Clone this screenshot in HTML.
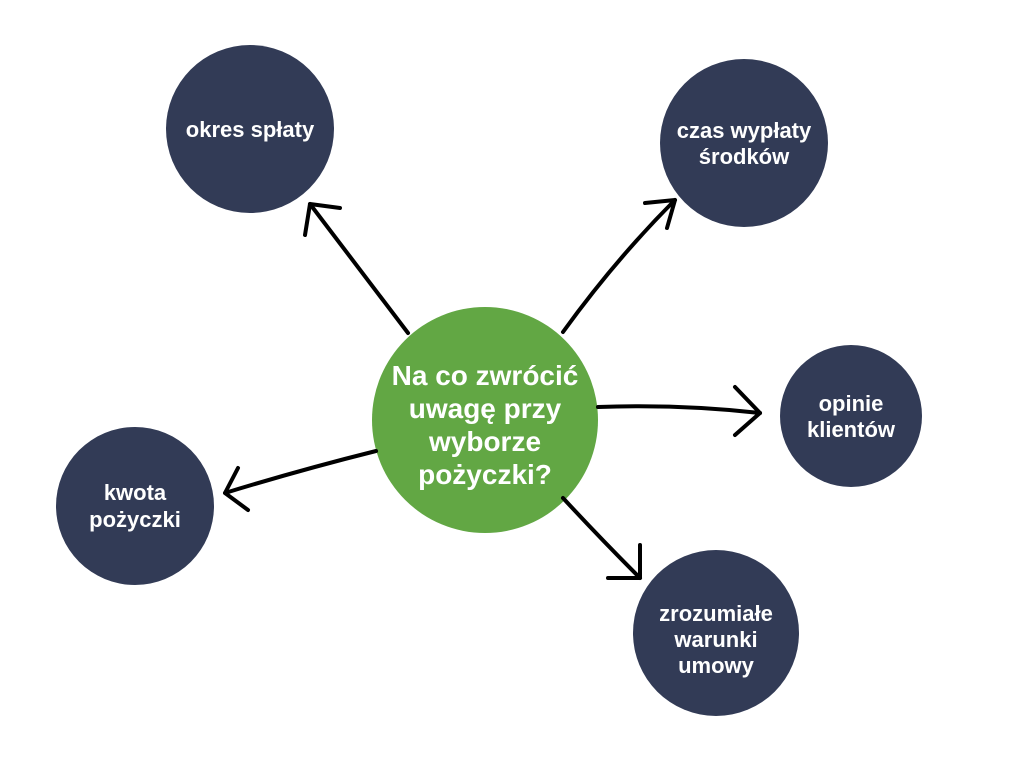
<!DOCTYPE html>
<html><head><meta charset="utf-8"><style>
html,body{margin:0;padding:0;background:#fff;}
svg{display:block;}
text{font-family:"Liberation Sans",sans-serif;font-weight:bold;fill:#fff;text-anchor:middle;}
</style></head><body>
<svg width="1024" height="768" viewBox="0 0 1024 768">
<g fill="#323b56">
<circle cx="250" cy="129" r="84"/>
<circle cx="744" cy="143" r="84"/>
<circle cx="851" cy="416" r="71"/>
<circle cx="135" cy="506" r="79"/>
<circle cx="716" cy="633" r="83"/>
</g>
<circle cx="485" cy="420" r="113" fill="#62a744"/>
<g stroke="#000" stroke-width="4" fill="none" stroke-linecap="round" stroke-linejoin="round">
<path d="M408 333 Q360 270 310 204"/><path d="M340 208 L310 204 L305 235"/>
<path d="M563 332 Q615 260 675 200"/><path d="M645 203 L675 200 L667 228"/>
<path d="M598 407 Q680 404 760 413"/><path d="M735 387 L760 413 L735 435"/>
<path d="M376 451 Q300 470 225 493"/><path d="M238 468 L225 493 L248 510"/>
<path d="M563 498 Q600 538 640 578"/><path d="M608 578 L640 578 L640 545"/>
</g>
<g font-size="22">
<text x="250" y="137">okres spłaty</text>
<text x="744" y="138">czas wypłaty</text>
<text x="744" y="164">środków</text>
<text x="851" y="411">opinie</text>
<text x="851" y="437">klientów</text>
<text x="135" y="500">kwota</text>
<text x="135" y="527">pożyczki</text>
<text x="716" y="621">zrozumiałe</text>
<text x="716" y="647">warunki</text>
<text x="716" y="673">umowy</text>
</g>
<g font-size="28">
<text x="485" y="385">Na co zwrócić</text>
<text x="485" y="418">uwagę przy</text>
<text x="485" y="451">wyborze</text>
<text x="485" y="484">pożyczki?</text>
</g>
</svg>
</body></html>
